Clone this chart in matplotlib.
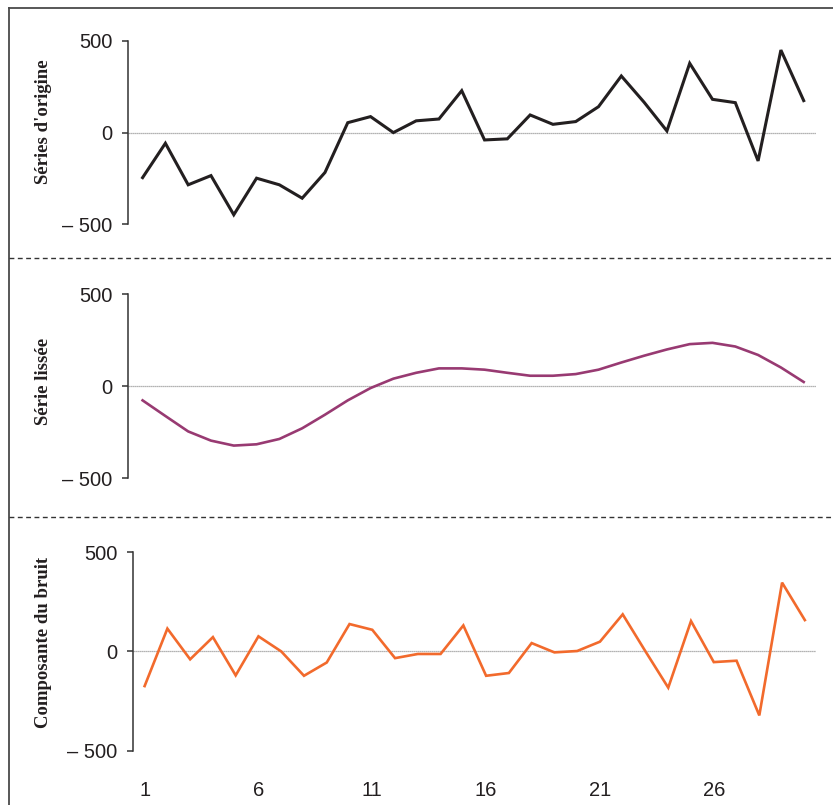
import numpy as np
import matplotlib.pyplot as plt
from matplotlib.lines import Line2D

periods = list(range(1, 31))
serie_origine = [-245, -58, -284, -234, -447, -248, -284, -357, -217, 54,
                 87, 0, 64, 74, 228, -40, -34, 96, 45, 60,
                 141, 308, 165, 9, 377, 181, 163, -154, 449, 174]
serie_lissee = [-76, -161, -245, -295, -322, -315, -286, -228, -154, -76,
                -9, 42, 74, 98, 98, 91, 74, 58, 58, 67,
                91, 130, 167, 201, 230, 237, 217, 171, 103, 24]
composante_bruit = [-175, 115, -40, 72, -121, 76, 0, -123, -56, 138,
                    109, -34, -13, -13, 131, -123, -109, 42, -5, 2,
                    49, 187, 0, -183, 153, -54, -47, -323, 347, 158]

y_ticks = [-500, 0, 500]
y_ticklabels = ["\u2013 500", "0", "500"]
x_ticks = [1, 6, 11, 16, 21, 26]

W, H = 833, 805
fig = plt.figure(figsize=(W / 100, H / 100), dpi=100)


def px_axes(left, right, top, bottom):
    return fig.add_axes([left / W, 1 - bottom / H, (right - left) / W, (bottom - top) / H])


panels = [
    # left, right, top, bottom, xlim, series, colour, width, label, label_y
    (128, 816, 40.7, 224.5, (0.36, 30.54), serie_origine, "#231f20", 2.2, "Séries d'origine", 122),
    (128, 816, 294.5, 478.3, (0.36, 30.54), serie_lissee, "#983a72", 1.9, "Série lissée", 381),
    (133, 816, 552.3, 750.5, (0.49, 30.49), composante_bruit, "#f26a2c", 1.9, "Composante du bruit", 642),
]

text_col = "#231f20"
for i, (l, r, t, b, xl, data, col, lw, lab, ly) in enumerate(panels):
    ax = px_axes(l, r, t, b)
    ax.axhline(0, color="#9a9a9a", lw=0.9, ls=(0, (1, 0.6)), zorder=1)
    ax.plot(periods, data, color=col, lw=lw, zorder=3, solid_joinstyle="miter")
    ax.set_xlim(*xl)
    ax.set_ylim(-500, 500)
    for s in ["top", "right", "bottom"]:
        ax.spines[s].set_visible(False)
    ax.spines["left"].set_color("#333333")
    ax.spines["left"].set_linewidth(1.1)
    ax.set_yticks(y_ticks)
    ax.set_yticklabels(y_ticklabels, family="Liberation Sans", fontsize=14.5, color=text_col)
    ax.tick_params(axis="y", length=4, width=1.1, color="#333333", pad=7)
    if i == 2:
        ax.set_xticks(x_ticks)
        ax.set_xticklabels([str(v) for v in x_ticks], family="Liberation Sans",
                           fontsize=14.5, color=text_col)
        ax.tick_params(axis="x", length=0, pad=22)
    else:
        ax.set_xticks([])
    fig.text(44 / W, 1 - ly / H, lab, rotation=90, ha="center", va="center",
             family="Liberation Serif", fontweight="bold", fontsize=13.5, color=text_col)

# outer frame and dashed separators
fig.add_artist(Line2D([9 / W, 9 / W], [0, 1 - 8 / H], transform=fig.transFigure,
                      color="#4a4a4a", lw=1.3))
fig.add_artist(Line2D([9 / W, 1], [1 - 8 / H, 1 - 8 / H], transform=fig.transFigure,
                      color="#4a4a4a", lw=1.3))
for yy in [258.5, 516.5]:
    fig.add_artist(Line2D([9 / W, 1], [1 - yy / H, 1 - yy / H], transform=fig.transFigure,
                          color="#333333", lw=1.0, ls=(0, (3.5, 2.5))))

fig.savefig("out.png", dpi=100)
